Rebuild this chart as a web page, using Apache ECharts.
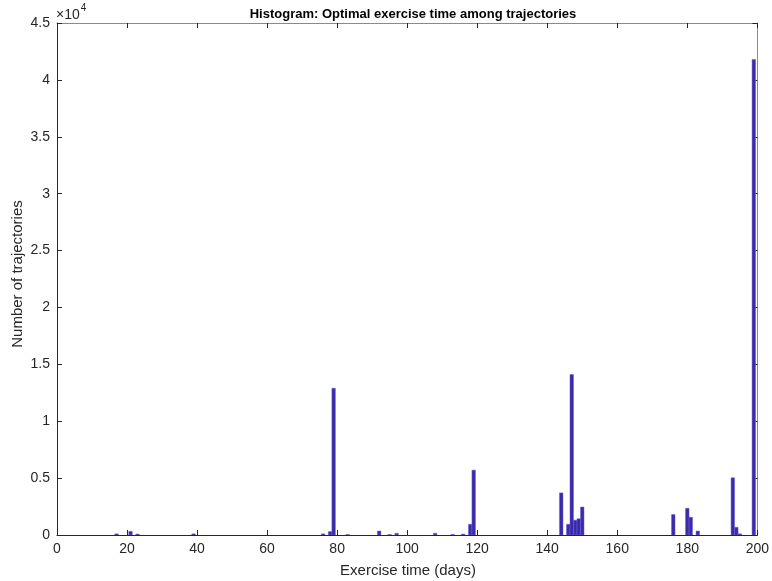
<!DOCTYPE html>
<html>
<head>
<meta charset="utf-8">
<script src="https://cdn.jsdelivr.net/npm/echarts@6/dist/echarts.min.js"></script>
<style>
html,body{margin:0;padding:0;background:#fff;}
#c{width:772px;height:581px;}
</style>
</head>
<body>
<div id="c"></div>
<script>
var days   = [17, 21, 23, 39, 76, 78, 79, 83, 92, 95, 97, 108, 113, 116, 118, 119, 144, 146, 147, 148, 149, 150, 176, 180, 181, 183, 193, 194, 195, 199];
var counts = [100, 320, 80, 100, 100, 300, 12900, 40, 350, 40, 150, 150, 50, 80, 940, 5700, 3700, 940, 14100, 1300, 1430, 2460, 1800, 2350, 1560, 350, 5030, 680, 100, 41800];
var xTicks = [0, 20, 40, 60, 80, 100, 120, 140, 160, 180, 200];
var yTickLabels = ['0', '0.5', '1', '1.5', '2', '2.5', '3', '3.5', '4', '4.5'];
var titleText = 'Histogram: Optimal exercise time among trajectories';
var xLabel = 'Exercise time (days)';
var yLabel = 'Number of trajectories';

var data = days.map(function (d, i) { return [d, counts[i]]; });
var FONT = '"Liberation Sans", Arial, sans-serif';
var AX = '#262626';

var chart = echarts.init(document.getElementById('c'), null, {renderer: 'canvas'});
var gridL = 57, gridR = 13, gridT = 23, gridB = 46;

function xAxisCfg(pos, show) {
  return {
    type: 'value', position: pos, min: 0, max: 200, interval: 20,
    axisLine: {show: true, onZero: false, lineStyle: {color: show ? AX : '#8a8a8a', width: 1}},
    axisTick: {show: true, inside: true, length: 5, lineStyle: {color: AX}},
    axisLabel: {show: show, color: AX, fontFamily: FONT, fontSize: 14, margin: 7},
    splitLine: {show: false}
  };
}
function yAxisCfg(pos, show) {
  return {
    type: 'value', position: pos, min: 0, max: 45000, interval: 5000,
    axisLine: {show: true, onZero: false, lineStyle: {color: show ? AX : '#8a8a8a', width: 1}},
    axisTick: {show: true, inside: true, length: 5, lineStyle: {color: AX}},
    axisLabel: {show: show, color: AX, fontFamily: FONT, fontSize: 14, margin: 7,
      formatter: function (v) { return yTickLabels[Math.round(v / 5000)]; }},
    splitLine: {show: false}
  };
}

var option = {
  animation: false,
  backgroundColor: '#fff',
  grid: {left: gridL, right: gridR, top: gridT, bottom: gridB, containLabel: false},
  title: {
    text: titleText, left: 408, top: 3, textAlign: 'center',
    textStyle: {fontFamily: FONT, fontSize: 13, fontWeight: 'bold', color: '#000'}
  },
  xAxis: [xAxisCfg('bottom', true), xAxisCfg('top', false)],
  yAxis: [yAxisCfg('left', true), yAxisCfg('right', false)],
  graphic: [
    {type: 'text', left: 56, top: 3,
      style: {text: '{a|×10}{b|4}', rich: {
        a: {fontFamily: FONT, fontSize: 14, fill: AX, padding: [5, 0, 0, 0]},
        b: {fontFamily: FONT, fontSize: 10, fill: AX, verticalAlign: 'top', padding: [0, 0, 7, 1]}
      }}},
    {type: 'text', x: 408, y: 571,
      style: {text: xLabel, fontFamily: FONT, fontSize: 15, fill: AX, align: 'center', verticalAlign: 'middle'}},
    {type: 'text', x: 18, y: 274, rotation: Math.PI / 2,
      style: {text: yLabel, fontFamily: FONT, fontSize: 15, fill: AX, align: 'center', verticalAlign: 'middle'}}
  ],
  series: [{
    type: 'custom',
    xAxisIndex: 0, yAxisIndex: 0,
    clip: true,
    data: data,
    renderItem: function (params, api) {
      var d = api.value(0), c = api.value(1);
      var p0 = api.coord([d - 0.5, c]);
      var p1 = api.coord([d + 0.5, 0]);
      return {
        type: 'rect',
        shape: {x: p0[0], y: p0[1], width: p1[0] - p0[0], height: p1[1] - p0[1]},
        style: {fill: '#3a2aac', stroke: '#6b60cc', lineWidth: 0.5}
      };
    }
  }]
};
chart.setOption(option);
</script>
</body>
</html>
